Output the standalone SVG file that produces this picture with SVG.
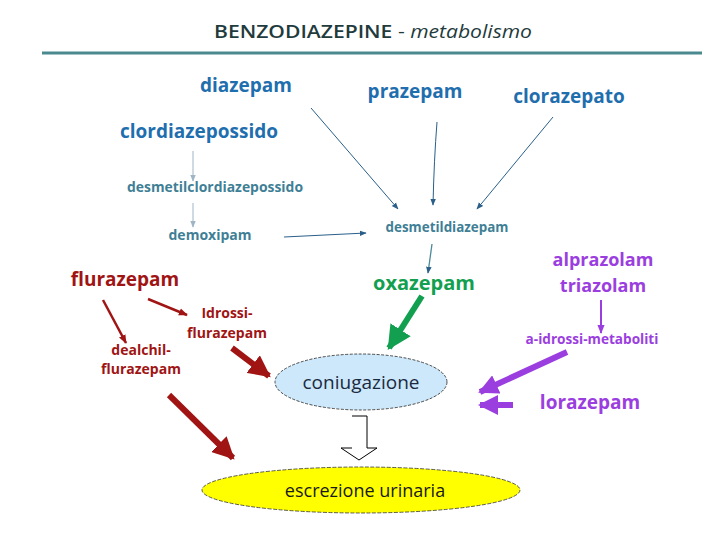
<svg xmlns="http://www.w3.org/2000/svg" width="720" height="540" viewBox="0 0 720 540">
<defs>
<style>
text{font-family:"Open Sans","Liberation Sans",sans-serif;font-weight:bold}
.blue{fill:#1f6eae;font-size:19px}
.teal{fill:#3f7f96;font-size:14px}
.red{fill:#a01414}
.purple{fill:#9b3ee0}
.thin{fill:none;stroke:#2a5f8a;stroke-width:1}
.thick{fill:none;stroke-width:6}
</style>
<marker id="ah" viewBox="0 0 10 10" refX="9" refY="5" markerWidth="7" markerHeight="7" markerUnits="userSpaceOnUse" orient="auto"><path d="M0,1 L10,5 L0,9 Z" fill="#2a5f8a"/></marker>
<marker id="ahg" viewBox="0 0 10 10" refX="9" refY="5" markerWidth="7" markerHeight="7" markerUnits="userSpaceOnUse" orient="auto"><path d="M0,1 L10,5 L0,9 Z" fill="#9fb4c4"/></marker>
<marker id="ahr" viewBox="0 0 10 10" refX="9" refY="5" markerWidth="9" markerHeight="9" markerUnits="userSpaceOnUse" orient="auto"><path d="M0,1 L10,5 L0,9 Z" fill="#a01414"/></marker>
<marker id="ahp" viewBox="0 0 10 10" refX="9" refY="5" markerWidth="9" markerHeight="9" markerUnits="userSpaceOnUse" orient="auto"><path d="M0,1 L10,5 L0,9 Z" fill="#9b3ee0"/></marker>
<marker id="bhr" viewBox="0 0 10 10" refX="9" refY="5" markerWidth="22" markerHeight="22" markerUnits="userSpaceOnUse" orient="auto"><path d="M0,0 L10,5 L0,10 Z" fill="#a01414"/></marker>
<marker id="bhg" viewBox="0 0 10 10" refX="9" refY="5" markerWidth="24" markerHeight="24" markerUnits="userSpaceOnUse" orient="auto"><path d="M0,0 L10,5 L0,10 Z" fill="#12a050"/></marker>
<marker id="bhp" viewBox="0 0 10 10" refX="9" refY="5" markerWidth="20" markerHeight="20" markerUnits="userSpaceOnUse" orient="auto"><path d="M0,0 L10,5 L0,10 Z" fill="#9b3ee0"/></marker>
</defs>
<rect width="720" height="540" fill="#ffffff"/>
<g id="title">
<text x="373" y="38" text-anchor="middle" style="font-family:'Open Sans','Liberation Sans',sans-serif;font-weight:normal;font-size:18px;fill:#1f3b3d" textLength="318" lengthAdjust="spacingAndGlyphs"><tspan font-weight="600">BENZODIAZEPINE</tspan> - <tspan font-style="italic">metabolismo</tspan></text>
<line x1="42" y1="53" x2="702" y2="53" stroke="#4a8a8f" stroke-width="3"/>
</g>
<g id="connectors">
<line class="thin" x1="311" y1="108" x2="398" y2="209" marker-end="url(#ah)"/>
<path class="thin" d="M437,122 Q434,160 433,205" marker-end="url(#ah)"/>
<line class="thin" x1="553" y1="117" x2="477" y2="209" marker-end="url(#ah)"/>
<line x1="193" y1="151" x2="193" y2="181" stroke="#9fb4c4" stroke-width="1" marker-end="url(#ahg)"/>
<line x1="193" y1="203" x2="193" y2="227" stroke="#9fb4c4" stroke-width="1" marker-end="url(#ahg)"/>
<line class="thin" x1="284" y1="237" x2="366" y2="233" stroke-width="1.3" marker-end="url(#ah)"/>
<line x1="432" y1="244" x2="428" y2="273" stroke="#4a8a9a" stroke-width="1.3" marker-end="url(#ah)"/>
<line class="thick" x1="422" y1="296" x2="389" y2="348" stroke="#12a050" marker-end="url(#bhg)"/>
<line x1="601" y1="300" x2="601" y2="333" stroke="#9b3ee0" stroke-width="2" marker-end="url(#ahp)"/>
<line class="thick" x1="567" y1="352" x2="480" y2="392" stroke="#9b3ee0" stroke-width="5" marker-end="url(#bhp)"/>
<line class="thick" x1="513" y1="405" x2="480" y2="405" stroke="#9b3ee0" stroke-width="5" marker-end="url(#bhp)"/>
<line x1="103" y1="300" x2="126" y2="343" stroke="#a01414" stroke-width="2.5" marker-end="url(#ahr)"/>
<line x1="148" y1="299" x2="187" y2="315" stroke="#a01414" stroke-width="2.5" marker-end="url(#ahr)"/>
<line class="thick" x1="232" y1="348" x2="269" y2="376" stroke="#a01414" marker-end="url(#bhr)"/>
<line class="thick" x1="169" y1="395" x2="233" y2="458" stroke="#a01414" marker-end="url(#bhr)"/>
<path d="M352,416 H367 V448 H377 L359,460 L341,448 H352" fill="none" stroke="#000000" stroke-width="1"/>
</g>
<g id="diazepam"><text x="246" y="92" text-anchor="middle" class="blue">diazepam</text></g>
<g id="prazepam"><text x="415" y="98" text-anchor="middle" class="blue">prazepam</text></g>
<g id="clorazepato"><text x="569" y="103" text-anchor="middle" class="blue">clorazepato</text></g>
<g id="clordiazepossido"><text x="199" y="138" text-anchor="middle" class="blue">clordiazepossido</text></g>
<g id="desmetilclordiazepossido"><text x="215" y="192" text-anchor="middle" class="teal" textLength="176" lengthAdjust="spacingAndGlyphs">desmetilclordiazepossido</text></g>
<g id="demoxipam"><text x="210" y="240" text-anchor="middle" class="teal">demoxipam</text></g>
<g id="desmetildiazepam"><text x="447" y="232" text-anchor="middle" class="teal" style="font-size:13.4px">desmetildiazepam</text></g>
<g id="flurazepam"><text x="125" y="286" text-anchor="middle" class="red" style="font-size:19px">flurazepam</text></g>
<g id="idrossiflurazepam"><text x="227" y="318" text-anchor="middle" class="red" style="font-size:14px">Idrossi-</text><text x="227" y="338" text-anchor="middle" class="red" style="font-size:14px">flurazepam</text></g>
<g id="dealchilflurazepam"><text x="141" y="355" text-anchor="middle" class="red" style="font-size:14px">dealchil-</text><text x="141" y="374" text-anchor="middle" class="red" style="font-size:14px">flurazepam</text></g>
<g id="oxazepam"><text x="424" y="290" text-anchor="middle" style="fill:#12a050;font-size:20px">oxazepam</text></g>
<g id="alprazolam"><text x="603" y="266" text-anchor="middle" class="purple" style="font-size:18px">alprazolam</text><text x="603" y="292" text-anchor="middle" class="purple" style="font-size:18px">triazolam</text></g>
<g id="aidrossi"><text x="592" y="344" text-anchor="middle" class="purple" style="font-size:13.6px">a-idrossi-metaboliti</text></g>
<g id="lorazepam"><text x="590" y="409" text-anchor="middle" class="purple" style="font-size:19px">lorazepam</text></g>
<g id="coniugazione">
<ellipse cx="361" cy="382" rx="86" ry="28" fill="#cce8fa" stroke="#222222" stroke-width="0.8" stroke-dasharray="3,1.5"/>
<text x="361" y="389" text-anchor="middle" style="font-weight:normal;font-size:19px;fill:#1a2a40">coniugazione</text>
</g>
<g id="escrezione">
<ellipse cx="361" cy="490" rx="159" ry="23" fill="#ffff00" stroke="#333333" stroke-width="0.8" stroke-dasharray="4,1.5"/>
<text x="365" y="497" text-anchor="middle" style="font-weight:normal;font-size:18px;fill:#1a1a1a">escrezione urinaria</text>
</g>
</svg>
